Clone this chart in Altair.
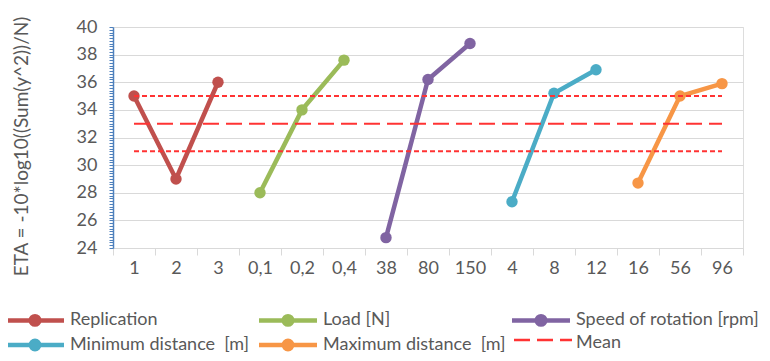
import altair as alt
import pandas as pd

categories = ["1", "2", "3", "0,1", "0,2", "0,4", "38", "80", "150", "4", "8", "12", "16", "56", "96"]
series_names = ["Replication", "Load [N]", "Speed of rotation [rpm]",
                "Minimum distance\u00a0 [m]", "Maximum distance\u00a0 [m]"]
series_colors = ["#C0504D", "#9BBB59", "#8064A2", "#4BACC6", "#F79646"]
replication = [35.0, 29.0, 36.0]
load = [28.0, 34.0, 37.6]
speed = [24.75, 36.2, 38.8]
minimum_distance = [27.35, 35.2, 36.9]
maximum_distance = [28.7, 35.0, 35.9]
mean_value = 33.0
upper_value = 35.0
lower_value = 31.0
y_ticks = [round(24 + 0.2 * i, 1) for i in range(81)]

RED = "#FF3333"
GRAY = "#595959"
FONT = "Lato"

series_values = [replication, load, speed, minimum_distance, maximum_distance]
rows = []
for i, (name, vals) in enumerate(zip(series_names, series_values)):
    for j, v in enumerate(vals):
        rows.append({"level": categories[3 * i + j], "series": name, "eta": v})
series_df = pd.DataFrame(rows)

mean_df = pd.DataFrame({"level": categories, "eta": [mean_value] * len(categories),
                        "kind": ["Mean"] * len(categories)})
limits_df = pd.DataFrame({
    "level": categories + categories,
    "eta": [upper_value] * len(categories) + [lower_value] * len(categories),
    "bound": ["upper"] * len(categories) + ["lower"] * len(categories),
})

x_enc = alt.X(
    "level:N", sort=categories,
    scale=alt.Scale(type="band", domain=categories, paddingInner=0, paddingOuter=0),
    axis=alt.Axis(title=None, labelAngle=0, tickBand="extent", tickColor="#D9D9D9",
                  tickSize=7, domainColor="#D9D9D9", labelColor=GRAY, labelFont=FONT,
                  labelFontSize=18, labelPadding=4, grid=False),
)
y_enc = alt.Y(
    "eta:Q",
    scale=alt.Scale(domain=[24, 40], nice=False, zero=False),
    axis=alt.Axis(
        values=y_ticks,
        labelExpr="datum.value % 2 === 0 ? format(datum.value, 'd') : ''",
        labelOverlap=False,
        grid=True,
        gridColor="#D9D9D9",
        gridOpacity={"condition": {"test": "datum.value % 2 === 0", "value": 1}, "value": 0},
        domainColor="#4F81BD", domainWidth=1.5,
        tickColor="#4F81BD", tickSize=4, tickWidth=1,
        labelColor=GRAY, labelFont=FONT, labelFontSize=18, labelPadding=12,
        title="ETA = -10*log10((Sum(y^2))/N)", titleColor=GRAY, titleFont=FONT,
        titleFontSize=19, titleFontWeight="normal", titleX=-82, titleY=119,
    ),
)

series_symbol = ("M-4.833,0L4.833,0"
                 "M0.708,0A0.708,0.708,0,1,1,-0.708,0A0.708,0.708,0,1,1,0.708,0"
                 "M0.333,0A0.333,0.333,0,1,1,-0.333,0A0.333,0.333,0,1,1,0.333,0")
line_symbol = "M-4.833,-0.5L4.833,-0.5"

legend_series = alt.Legend(
    title=None, orient="none", legendX=-87, legendY=284, columns=3, gridAlign="all",
    direction="horizontal",
    symbolType=series_symbol, symbolSize=144, symbolStrokeWidth=4.5, symbolOpacity=1,
    labelFont=FONT, labelFontSize=18, labelColor=GRAY, labelOffset=26, labelLimit=400,
    columnPadding=-4, rowPadding=-3, padding=0,
)
legend_mean = alt.Legend(
    title=None, orient="none", legendX=421, legendY=307,
    symbolType=line_symbol, symbolSize=144, symbolStrokeWidth=2.5,
    symbolStrokeColor=RED, symbolOpacity=1,
    labelFont=FONT, labelFontSize=18, labelColor=GRAY, labelOffset=24, labelLimit=400,
    padding=0,
)

series_layer = alt.Chart(series_df).mark_line(
    strokeWidth=4.5, point=alt.OverlayMarkDef(size=130, filled=True, opacity=1)
).encode(
    x=x_enc, y=y_enc,
    color=alt.Color("series:N", scale=alt.Scale(domain=series_names, range=series_colors),
                    legend=legend_series),
)

limits_layer = alt.Chart(limits_df).mark_line(
    color=RED, strokeWidth=2, strokeDash=[5, 3]
).encode(x=x_enc, y=y_enc, detail="bound:N")

mean_layer = alt.Chart(mean_df).mark_line(color=RED, strokeWidth=2).encode(
    x=x_enc, y=y_enc,
    strokeDash=alt.StrokeDash("kind:N", scale=alt.Scale(domain=["Mean"], range=[[16, 7]]),
                              legend=legend_mean),
)

chart = alt.layer(series_layer, limits_layer, mean_layer).properties(
    width=630, height=221,
    autosize=alt.AutoSizeParams(type="none"),
    padding={"left": 105, "top": 19, "right": 19, "bottom": 105},
).configure_view(stroke=None).configure(font=FONT)

chart.save("out.html", embed_options={"renderer": "svg", "actions": False})
